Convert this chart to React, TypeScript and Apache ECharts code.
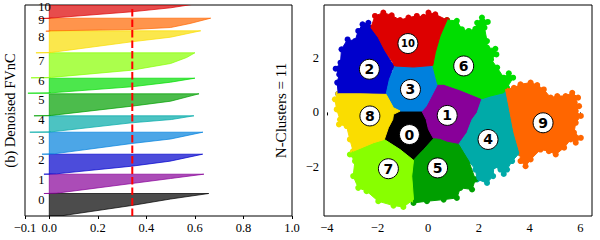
import React, { useEffect, useRef } from "react";
import * as echarts from "echarts";

const FONT = "'Liberation Serif', serif";

const clusterColors = ["#000000", "#880099", "#0000cc", "#0080dd", "#00aaa8", "#009f00", "#00dd00", "#88ff00", "#fadd00", "#ff6600", "#dd0000"];
const clusterNames = ["0", "1", "2", "3", "4", "5", "6", "7", "8", "9", "10"];

// silhouette profile per cluster: [silhouette value, row]
const silhouette0 = [[0.045, 0], [0.34, 10.5], [0.5, 17], [0.657, 22.5]];
const silhouette1 = [[-0.022, 22.5], [0.03, 22.8], [0.34, 32.5], [0.5, 37.5], [0.637, 41.8]];
const silhouette2 = [[-0.022, 41.8], [0.03, 42.2], [0.34, 49.8], [0.497, 54.8], [0.632, 61.8]];
const silhouette3 = [[-0.03, 61.8], [0.02, 62.2], [0.34, 72.5], [0.5, 77], [0.633, 83.8]];
const silhouette4 = [[-0.08, 83.8], [0.01, 84.2], [0.34, 93.2], [0.504, 96.5], [0.596, 100.2]];
const silhouette5 = [[-0.063, 100.2], [0.01, 100.6], [0.34, 109.8], [0.5, 114.8], [0.617, 122.2]];
const silhouette6 = [[-0.088, 122.8], [0.01, 123.2], [0.34, 129.2], [0.5, 133.8], [0.6, 137.8]];
const silhouette7 = [[-0.075, 138.2], [0.01, 138.6], [0.34, 145.8], [0.5, 152.5], [0.566, 158.5], [0.6, 163.2]];
const silhouette8 = [[-0.055, 163.2], [0.01, 163.6], [0.34, 174.2], [0.5, 178.8], [0.624, 185.2]];
const silhouette9 = [[-0.014, 184.8], [0.01, 185.2], [0.34, 186.5], [0.5, 188.5], [0.58, 192.5], [0.665, 197.8]];
const silhouette10 = [[-0.04, 197.5], [0.01, 198], [0.34, 204.2], [0.5, 208.2], [0.587, 211.5]];
const silhouettes = [silhouette0, silhouette1, silhouette2, silhouette3, silhouette4, silhouette5, silhouette6, silhouette7, silhouette8, silhouette9, silhouette10];
const clusterLabelRows = [15.8, 36.5, 55.8, 76.5, 95.8, 116.5, 134.8, 154.8, 178.8, 195.8, 209];
const clusterLabelX = -0.045;
const avgSilhouette = 0.342;
const avgLineRows = [0, 207.5];

// outline of each cluster's cloud of points in the embedding
const cloud0 = [[-1.73, -0.99], [-1.57, -0.56], [-1.4, -0.26], [-1.37, -0.07], [-1.11, 0.05], [-0.25, 0.05], [-0.08, -0.26], [0.01, -0.62], [0.21, -0.96], [-0.18, -1.36], [-0.58, -1.75], [-1.11, -1.36]];
const cloud1 = [[0.37, 1.03], [0.61, 1.03], [1.27, 0.82], [2.12, 0.5], [1.93, -0.01], [1.73, -0.26], [1.53, -0.74], [1.2, -1.17], [0.74, -1.09], [0.47, -0.99], [0.21, -0.96], [0.01, -0.62], [-0.08, -0.26], [-0.25, 0.05], [-0.08, 0.23]];
const cloud2 = [[-2.59, 3.22], [-2.36, 3.28], [-2.19, 3.04], [-1.97, 2.74], [-1.7, 2.25], [-1.37, 1.7], [-1.53, 1.21], [-1.66, 0.66], [-2.69, 0.68], [-3.55, 0.68], [-3.59, 1.09], [-3.51, 1.39], [-3.65, 1.6], [-3.46, 1.82], [-3.42, 2.31], [-3.18, 2.67], [-2.89, 2.61], [-2.76, 2.98]];
const cloud3 = [[-1.66, 0.66], [-1.37, 0.17], [-1.11, 0.05], [-0.25, 0.05], [-0.08, 0.23], [0.37, 1.03], [0.18, 1.72], [-0.58, 1.66], [-1.31, 1.7], [-1.53, 1.21]];
const cloud4 = [[2.12, 0.5], [2.45, 0.6], [2.98, 0.72], [3.05, 0.84], [3.18, 0.23], [3.28, -0.26], [3.38, -0.74], [3.61, -1.48], [3.31, -1.78], [3.11, -2.09], [2.98, -2.25], [2.85, -2.09], [2.59, -1.97], [2.56, -2.33], [2.32, -2.58], [1.93, -2.45], [1.86, -2.09], [1.6, -1.78], [1.4, -1.48], [1.2, -1.17], [1.53, -0.74], [1.73, -0.26], [1.93, -0.01]];
const cloud5 = [[-0.58, -1.75], [-0.18, -1.36], [0.21, -0.96], [0.47, -0.99], [0.74, -1.09], [1.2, -1.17], [1.4, -1.48], [1.6, -1.78], [1.86, -2.45], [1.73, -2.82], [1.27, -2.76], [1.13, -3.13], [0.61, -3.19], [-0.05, -3.25], [-0.58, -3.31], [-0.65, -2.33]];
const cloud6 = [[0.74, 3.38], [1.13, 3.35], [1.33, 3.04], [1.6, 2.98], [1.86, 3.06], [1.93, 3.28], [2.12, 3.47], [2.35, 3.31], [2.22, 3.1], [2.32, 2.61], [2.32, 2.37], [2.65, 2.33], [2.69, 2.12], [2.48, 1.94], [2.72, 1.64], [2.98, 1.27], [3.18, 1.43], [3.35, 1.27], [3.11, 0.9], [2.98, 0.72], [2.45, 0.6], [2.12, 0.5], [1.27, 0.82], [0.61, 1.03], [0.37, 1.03], [0.18, 1.72], [0.28, 2.19], [0.47, 2.8]];
const cloud7 = [[-2.96, -1.42], [-2.16, -1.11], [-1.73, -0.99], [-1.11, -1.36], [-0.58, -1.75], [-0.65, -2.33], [-0.58, -3.19], [-0.98, -3.46], [-1.37, -3.41], [-1.97, -3.25], [-2.43, -2.88], [-2.76, -2.76], [-2.96, -2.33], [-2.89, -1.78], [-3.09, -1.54]];
const cloud8 = [[-3.68, 0.48], [-3.55, 0.68], [-2.69, 0.68], [-1.66, 0.66], [-1.37, 0.17], [-1.11, 0.05], [-1.37, -0.07], [-1.4, -0.26], [-1.57, -0.56], [-1.73, -0.99], [-2.16, -1.11], [-2.96, -1.42], [-3.09, -0.99], [-3.22, -0.5], [-3.52, -0.44], [-3.48, -0.26], [-3.61, 0.11]];
const cloud9 = [[3.05, 0.84], [3.38, 0.9], [3.64, 1.03], [4.04, 1.09], [4.3, 1.0], [4.56, 0.84], [4.83, 0.54], [5.09, 0.6], [5.42, 0.6], [5.68, 0.72], [5.91, 0.54], [5.78, 0.35], [5.95, 0.23], [5.82, 0.05], [6.02, -0.13], [5.82, -0.38], [5.75, -0.74], [6.02, -0.93], [5.82, -1.11], [5.62, -0.99], [5.36, -1.29], [5.03, -1.54], [4.76, -1.42], [4.43, -1.36], [4.04, -1.72], [3.84, -1.97], [3.64, -1.78], [3.61, -1.48], [3.38, -0.74], [3.28, -0.26], [3.18, 0.23]];
const cloud10 = [[-2.26, 3.1], [-2.1, 3.53], [-1.77, 3.65], [-1.44, 3.55], [-1.11, 3.38], [-0.78, 3.47], [-0.45, 3.53], [-0.18, 3.5], [0.01, 3.65], [0.28, 3.59], [0.74, 3.38], [0.47, 2.8], [0.28, 2.19], [0.18, 1.72], [-0.58, 1.66], [-1.31, 1.7], [-1.7, 2.25], [-1.97, 2.74]];
const clouds = [cloud0, cloud1, cloud2, cloud3, cloud4, cloud5, cloud6, cloud7, cloud8, cloud9, cloud10];
const cloudCenters = [[-0.74, -0.81], [0.75, -0.11], [-2.32, 1.58], [-0.7, 0.84], [2.36, -0.99], [0.37, -2.03], [1.4, 1.7], [-1.57, -2.06], [-2.3, -0.13], [4.53, -0.38], [-0.8, 2.52]];

const leftXTicks = [-0.1, 0, 0.2, 0.4, 0.6, 0.8, 1];
const rightXTicks = [-4, -2, 0, 2, 4, 6];
const rightYTicks = [-2, 0, 2];

const minus = (s: string) => s.replace("-", "\u2212");
const axisText = { color: "#000", fontFamily: FONT, fontSize: 12.5, margin: 5 };
const tick = { show: true, length: 3, lineStyle: { color: "#000", width: 1 } };

function alpha(hex: string, a: number) {
  const c = echarts.color.parse(hex);
  return `rgba(${c[0]},${c[1]},${c[2]},${a})`;
}

export default function App() {
  const ref = useRef<HTMLDivElement>(null);
  useEffect(() => {
    const chart = echarts.init(ref.current!, undefined, { renderer: "svg" });
    chart.setOption({
      animation: false,
      backgroundColor: "#fff",
      grid: [
        { left: 25, top: 5, width: 267, height: 211, show: true, borderColor: "#000", borderWidth: 1, backgroundColor: "transparent" },
        { left: 324, top: 5, width: 268, height: 211, show: true, borderColor: "#000", borderWidth: 1, backgroundColor: "transparent" },
      ],
      xAxis: [
        {
          type: "value", gridIndex: 0, min: -0.1, max: 1, splitLine: { show: false }, axisLine: { show: false },
          axisTick: { ...tick, customValues: leftXTicks },
          axisLabel: { ...axisText, customValues: leftXTicks, formatter: (v: number) => minus(v.toFixed(1)) },
        },
        {
          type: "value", gridIndex: 1, min: -4.11, max: 6.46, splitLine: { show: false }, axisLine: { show: false },
          axisTick: { ...tick, customValues: rightXTicks },
          axisLabel: { ...axisText, customValues: rightXTicks, formatter: (v: number) => minus(String(v)) },
        },
      ],
      yAxis: [
        {
          type: "value", gridIndex: 0, min: 0, max: 211, splitLine: { show: false }, axisLine: { show: false },
          axisTick: { show: false }, axisLabel: { show: false },
          name: "(b) Denoised FVnC", nameLocation: "middle", nameGap: 8, nameRotate: 90,
          nameTextStyle: { color: "#000", fontFamily: FONT, fontSize: 14.5 },
        },
        {
          type: "value", gridIndex: 1, min: -3.79, max: 3.93, splitLine: { show: false }, axisLine: { show: false },
          axisTick: { ...tick, customValues: rightYTicks },
          axisLabel: { ...axisText, customValues: rightYTicks, formatter: (v: number) => minus(String(v)) },
          name: "N-Clusters = 11", nameLocation: "middle", nameGap: 36, nameRotate: 90,
          nameTextStyle: { color: "#000", fontFamily: FONT, fontSize: 15 },
        },
      ],
      series: [
        {
          type: "custom", xAxisIndex: 0, yAxisIndex: 0, coordinateSystem: "cartesian2d", clip: true,
          data: silhouettes.map((_, i) => [i]),
          renderItem: (params: any, api: any) => {
            const i = params.dataIndex;
            const curve = silhouettes[i];
            const pts = [[0, curve[0][1]], ...curve, [0, curve[curve.length - 1][1]]].map((p) => api.coord(p));
            return {
              type: "polygon",
              shape: { points: pts },
              style: { fill: alpha(clusterColors[i], 0.7), stroke: alpha(clusterColors[i], 0.7), lineWidth: 1 },
            };
          },
        },
        {
          type: "custom", xAxisIndex: 0, yAxisIndex: 0, coordinateSystem: "cartesian2d", clip: false,
          data: clusterLabelRows.map((r, i) => [clusterLabelX, r, i]),
          renderItem: (params: any, api: any) => {
            const p = api.coord([api.value(0), api.value(1)]);
            return {
              type: "text", x: p[0], y: p[1],
              style: { text: clusterNames[params.dataIndex], fill: "#000", font: `12.5px ${FONT}`, align: "left", verticalAlign: "middle" },
            };
          },
        },
        {
          type: "line", xAxisIndex: 0, yAxisIndex: 0, symbol: "none", silent: true,
          data: avgLineRows.map((r) => [avgSilhouette, r]),
          lineStyle: { color: "#ff0000", width: 2, type: [7.5, 3] },
        },
        {
          type: "custom", xAxisIndex: 1, yAxisIndex: 1, coordinateSystem: "cartesian2d", clip: true,
          data: clouds.map((_, i) => [i]),
          renderItem: (params: any, api: any) => {
            const i = params.dataIndex;
            const pts = clouds[i].map((p) => api.coord(p));
            return {
              type: "group",
              children: pts.map((p: number[]) => ({
                type: "circle",
                shape: { cx: p[0], cy: p[1], r: 3 },
                style: { fill: clusterColors[i] },
              })),
            };
          },
        },
        {
          type: "custom", xAxisIndex: 1, yAxisIndex: 1, coordinateSystem: "cartesian2d", clip: true,
          data: clouds.map((_, i) => [i]),
          renderItem: (params: any, api: any) => {
            const i = params.dataIndex;
            return {
              type: "polygon",
              shape: { points: clouds[i].map((p) => api.coord(p)) },
              style: { fill: clusterColors[i], stroke: clusterColors[i], lineWidth: 1, lineJoin: "round" },
            };
          },
        },
        {
          type: "scatter", xAxisIndex: 1, yAxisIndex: 1, symbol: "circle", symbolSize: 20,
          data: cloudCenters.map((c, i) => ({
            value: c,
            label: { fontSize: clusterNames[i].length > 1 ? 10 : 14 },
          })),
          itemStyle: { color: "#fff", borderColor: "#000", borderWidth: 1, opacity: 1 },
          label: {
            show: true, position: "inside", color: "#000", fontFamily: "'DejaVu Sans', sans-serif", fontWeight: "bold",
            formatter: (p: any) => clusterNames[p.dataIndex],
          },
        },
      ],
    });
    return () => chart.dispose();
  }, []);
  return <div ref={ref} style={{ position: "fixed", left: 0, top: 0, width: 600, height: 240 }} />;
}
